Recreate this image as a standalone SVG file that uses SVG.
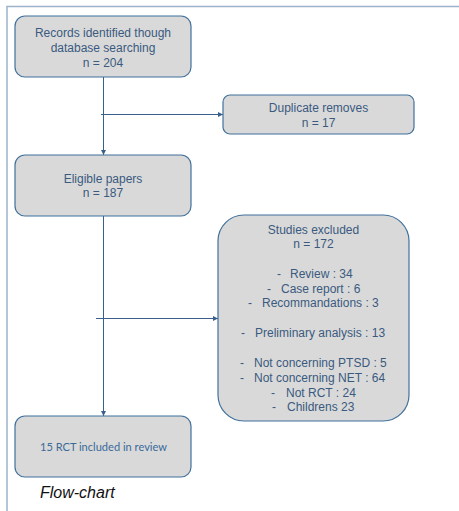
<svg xmlns="http://www.w3.org/2000/svg" width="459" height="511" viewBox="0 0 459 511">
<defs>
<marker id="arr" viewBox="0 0 6 6" refX="6" refY="3" markerWidth="5" markerHeight="5" markerUnits="userSpaceOnUse" orient="auto">
<path d="M0,0 L6,3 L0,6 z" fill="#3a5f8a"/>
</marker>
<style>
.box{fill:#d9d9d9;stroke:#41719c;stroke-width:1.2}
.t{font-family:"Liberation Sans",Arial,sans-serif;font-size:12px;fill:#3a5a80;text-anchor:middle}
.tl{font-family:"Liberation Sans",Arial,sans-serif;font-size:12px;fill:#3a5a80}
.c{stroke:#3a5f8a;stroke-width:1;fill:none}
.frame{stroke:#9db3cc;stroke-width:1.5;fill:none}
</style>
</defs>
<rect width="459" height="511" fill="#ffffff"/>
<path class="frame" d="M7,511 V6.5 H459"/>
<g id="connectors">
<line class="c" x1="103.5" y1="77" x2="103.5" y2="155" marker-end="url(#arr)"/>
<line class="c" x1="101" y1="114.5" x2="223" y2="114.5" marker-end="url(#arr)"/>
<line class="c" x1="103.5" y1="216" x2="103.5" y2="416" marker-end="url(#arr)"/>
<line class="c" x1="96" y1="318.5" x2="218" y2="318.5" marker-end="url(#arr)"/>
</g>
<g id="records">
<rect class="box" x="15" y="16" width="176" height="61" rx="10"/>
<text class="t" x="103" y="37">Records identified though</text>
<text class="t" x="103" y="52">database searching</text>
<text class="t" x="103" y="67">n = 204</text>
</g>
<g id="duplicates">
<rect class="box" x="223" y="95" width="191" height="39" rx="7"/>
<text class="t" x="318.5" y="112">Duplicate removes</text>
<text class="t" x="318.5" y="126.5">n = 17</text>
</g>
<g id="eligible">
<rect class="box" x="15" y="155" width="176" height="61" rx="10"/>
<text class="t" x="103" y="183">Eligible papers</text>
<text class="t" x="103" y="197">n = 187</text>
</g>
<g id="excluded">
<rect class="box" x="218" y="215" width="191" height="206" rx="26"/>
<text class="t" x="313.5" y="234">Studies excluded</text>
<text class="t" x="313.5" y="248">n = 172</text>
<text class="tl" x="277" y="278">-</text><text class="tl" x="290" y="278">Review : 34</text>
<text class="tl" x="267" y="292.5">-</text><text class="tl" x="281" y="292.5">Case report : 6</text>
<text class="tl" x="248" y="307">-</text><text class="tl" x="262" y="307">Recommandations : 3</text>
<text class="tl" x="241" y="337">-</text><text class="tl" x="255" y="337">Preliminary analysis : 13</text>
<text class="tl" x="240" y="366.5">-</text><text class="tl" x="254" y="366.5">Not concerning PTSD : 5</text>
<text class="tl" x="240" y="381.5">-</text><text class="tl" x="254" y="381.5">Not concerning NET : 64</text>
<text class="tl" x="271" y="396.5">-</text><text class="tl" x="286" y="396.5">Not RCT : 24</text>
<text class="tl" x="272" y="410.5">-</text><text class="tl" x="287" y="410.5">Childrens 23</text>
</g>
<g id="included">
<rect class="box" x="15" y="416" width="176" height="61" rx="10"/>
<text x="103.5" y="450.5" font-family="Lato,'Open Sans',sans-serif" font-size="10.5" fill="#3a6a9a" text-anchor="middle" textLength="127" lengthAdjust="spacingAndGlyphs">15 RCT included in review</text>
</g>
<text x="40" y="498" font-family="'Liberation Sans',Arial,sans-serif" font-size="16" font-style="italic" fill="#111111">Flow-chart</text>
</svg>
